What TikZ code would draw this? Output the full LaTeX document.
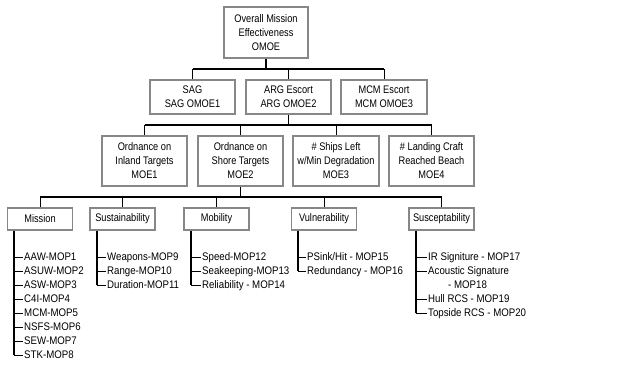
\documentclass[tikz,border=0pt]{standalone}
\usepackage{fontspec}
\setmainfont{Liberation Sans}[FakeStretch=0.84]
\newfontfamily\omItemFont{Liberation Sans}[FakeStretch=0.88]
\usetikzlibrary{calc}
\definecolor{omFrame}{HTML}{878787}
\definecolor{omInk}{HTML}{000000}
\tikzset{
  block/.style={draw=omFrame,line width=1.6pt,align=center,text=omInk,
    font=\fontsize{11}{14}\selectfont,inner sep=0pt,fill=white},
  goal/.style={block,minimum width=84pt,minimum height=51pt},
  branch/.style={block,minimum width=85.5pt,minimum height=34pt},
  measure/.style={block,minimum width=85.5pt,minimum height=50pt},
  factor/.style={block,minimum width=65pt,minimum height=22pt},
  bus/.style={draw=omInk,line width=1.8pt},
  drop/.style={draw=omInk,line width=.8pt},
  tick/.style={draw=omInk,line width=.8pt},
  item/.style={anchor=west,inner sep=1pt,text=omInk,
    font=\omItemFont\fontsize{11}{13}\selectfont,text height=8pt,text depth=2pt},
}

\begin{document}
\begin{tikzpicture}[x=1pt,y=-1pt]
  \useasboundingbox (0,0) rectangle (636,364);
  \node[goal] (omoe) at (266,32.5) {Overall Mission\\Effectiveness\\OMOE};
  \node[branch] (sag) at (192.5,97) {SAG\\SAG OMOE1};
  \node[branch] (arg) at (288.5,97) {ARG Escort\\ARG OMOE2};
  \node[branch] (mcm) at (384,97) {MCM Escort\\MCM OMOE3};
  \coordinate (bus1) at (0,69);
  \draw[bus] (omoe.south) -- (omoe.south |- bus1);
  \draw[bus] (sag |- bus1) -- (mcm |- bus1);
  \foreach \n in {sag,arg,mcm} {
    \draw[drop] (\n |- bus1) -- (\n.north);
  }
  \node[measure] (moe1) at (144.5,161) {Ordnance on\\Inland Targets\\MOE1};
  \node[measure] (moe2) at (240.5,161) {Ordnance on\\Shore Targets\\MOE2};
  \node[measure] (moe3) at (336,161) {\# Ships Left\\w/Min Degradation\\MOE3};
  \node[measure] (moe4) at (431.5,161) {\# Landing Craft\\Reached Beach\\MOE4};
  \coordinate (bus2) at (0,125);
  \draw[bus] (arg.south) -- (arg.south |- bus2);
  \draw[bus] (moe1 |- bus2) -- (moe4 |- bus2);
  \foreach \n in {moe1,moe2,moe3,moe4} {
    \draw[drop] (\n |- bus2) -- (\n.north);
  }
  \node[factor] (mission) at (40,219) {Mission};
  \node[factor] (sustain) at (122.5,219) {Sustainability};
  \node[factor] (mobility) at (216.5,219) {Mobility};
  \node[factor] (vulner) at (324,219) {Vulnerability};
  \node[factor] (suscept) at (441.5,219) {Susceptability};
  \coordinate (bus3) at (0,197);
  \draw[bus] (moe2.south) -- (moe2.south |- bus3);
  \draw[bus] (mission |- bus3) -- (suscept |- bus3);
  \foreach \n in {mission,sustain,mobility,vulner,suscept} {
    \draw[drop] (\n |- bus3) -- (\n.north);
  }
  \foreach \t [count=\k] in {AAW-MOP1,ASUW-MOP2,ASW-MOP3,C4I-MOP4,MCM-MOP5,NSFS-MOP6,SEW-MOP7,STK-MOP8}
    \node[item] (mis\k) at (23,243+14*\k) {\t};
  \foreach \t [count=\k] in {Weapons-MOP9,Range-MOP10,Duration-MOP11}
    \node[item] (sus\k) at (106,243+14*\k) {\t};
  \foreach \t [count=\k] in {Speed-MOP12,Seakeeping-MOP13,Reliability - MOP14}
    \node[item] (mob\k) at (201,243+14*\k) {\t};
  \foreach \t [count=\k] in {PSink/Hit - MOP15,Redundancy - MOP16}
    \node[item] (vul\k) at (306,243+14*\k) {\t};
  \node[item] (sce1) at (427,257) {IR Signiture - MOP17};
  \node[item] (sce2) at (427,271) {Acoustic Signature};
  \node[item] (sce2b) at (447,285) {- MOP18};
  \node[item] (sce3) at (427,299) {Hull RCS - MOP19};
  \node[item] (sce4) at (427,313) {Topside RCS - MOP20};
  \draw[bus] ([xshift=7.4pt]mission.south west) coordinate (misx) -- (misx |- mis8.west);
  \foreach \k in {1,...,8} {
    \draw[tick] (misx |- mis\k.west) -- (mis\k.west);
  }
  \draw[bus] ([xshift=7.4pt]sustain.south west) coordinate (susx) -- (susx |- sus3.west);
  \foreach \k in {1,2,3} {
    \draw[tick] (susx |- sus\k.west) -- (sus\k.west);
  }
  \draw[bus] ([xshift=7.4pt]mobility.south west) coordinate (mobx) -- (mobx |- mob3.west);
  \foreach \k in {1,2,3} {
    \draw[tick] (mobx |- mob\k.west) -- (mob\k.west);
  }
  \draw[bus] ([xshift=7.4pt]vulner.south west) coordinate (vulx) -- (vulx |- vul2.west);
  \foreach \k in {1,2} {
    \draw[tick] (vulx |- vul\k.west) -- (vul\k.west);
  }
  \draw[bus] ([xshift=7.4pt]suscept.south west) coordinate (scex) -- (scex |- sce4.west);
  \foreach \k in {1,2,3,4} {
    \draw[tick] (scex |- sce\k.west) -- (sce\k.west);
  }
\end{tikzpicture}
\end{document}
